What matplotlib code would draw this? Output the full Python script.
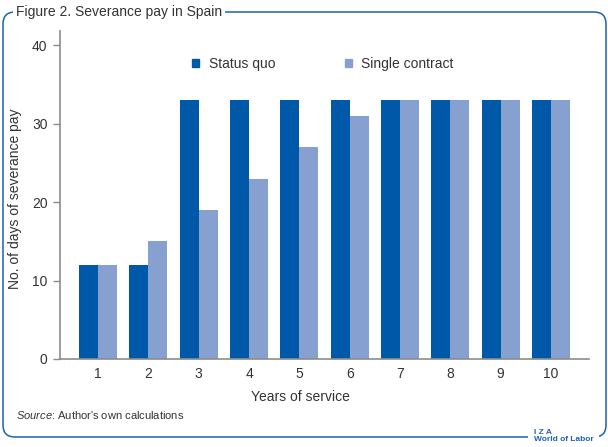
import matplotlib
matplotlib.use("Agg")
import matplotlib.pyplot as plt
from matplotlib.patches import FancyBboxPatch, Patch
from matplotlib.transforms import IdentityTransform
import numpy as np

plt.rcParams["font.family"] = ["Liberation Sans", "DejaVu Sans"]
plt.rcParams["mathtext.fontset"] = "custom"
plt.rcParams["mathtext.rm"] = "Liberation Sans"
plt.rcParams["mathtext.it"] = "Liberation Sans:italic"

years = [1, 2, 3, 4, 5, 6, 7, 8, 9, 10]
status_quo = [12, 12, 33, 33, 33, 33, 33, 33, 33, 33]
single_contract = [12, 15, 19, 23, 27, 31, 33, 33, 33, 33]

DARK = "#0058a8"
LIGHT = "#86a0d0"
FRAME = "#1b62b5"
GREY = "#8c8c8c"
TEXT = "#333333"

W, H = 608, 447
fig = plt.figure(figsize=(W / 100, H / 100), dpi=100)
ax = fig.add_axes([60 / W, 1 - 359 / H, 529 / W, 328 / H])

x = np.array(years)
bw = 0.38
ax.bar(x - bw / 2, status_quo, bw, color=DARK, edgecolor="none", label="Status quo")
ax.bar(x + bw / 2, single_contract, bw, color=LIGHT, edgecolor="none", label="Single contract")

ax.set_xlim(0.245, 10.755)
ax.set_ylim(0, 41.8)
ax.set_xticks(years)
ax.set_yticks([0, 10, 20, 30, 40])
ax.tick_params(axis="x", length=0, pad=6, labelsize=10, labelcolor=TEXT)
ax.tick_params(axis="y", length=5, width=1, color=GREY, pad=4, labelsize=10, labelcolor=TEXT)
for s in ["top", "right"]:
    ax.spines[s].set_visible(False)
for s in ["left", "bottom"]:
    ax.spines[s].set_color(GREY)
    ax.spines[s].set_linewidth(1.2)

ax.set_ylabel("No. of days of severance pay", fontsize=10, color=TEXT)
ax.yaxis.set_label_coords(-38 / 529, 0.49)
ax.set_xlabel("Years of service", fontsize=10, color=TEXT)
ax.xaxis.set_label_coords((300 - 60) / 529, -31 / 328)

handles = [Patch(color=DARK, label="Status quo"), Patch(color=LIGHT, label="Single contract")]
ax.legend(handles=handles, ncol=2, frameon=False, fontsize=10,
          loc="center left", bbox_to_anchor=((192 - 60) / 529, (359 - 64) / 328),
          borderpad=0, borderaxespad=0, handlelength=0.5, handleheight=0.5,
          handletextpad=0.7, columnspacing=5.0, labelcolor=TEXT)

# rounded frame around the figure
frame = FancyBboxPatch((3, 10), 603, 425, boxstyle="round,pad=0,rounding_size=12",
                       transform=IdentityTransform(), facecolor="none",
                       edgecolor=FRAME, linewidth=1.1, zorder=0)
fig.patches.append(frame)

fig.text(16 / W, 1 - 12 / H, "Figure 2. Severance pay in Spain", fontsize=10,
         color=TEXT, ha="left", va="center",
         bbox=dict(facecolor="white", edgecolor="none", pad=2))

fig.text(16 / W, 1 - 415 / H, r"$\it{Source}$: Author's own calculations", fontsize=8,
         color=TEXT, ha="left", va="center")

fig.text(534 / W, 1 - 436 / H, "I Z A\nWorld of Labor", fontsize=6, color=FRAME,
         fontweight="bold", ha="left", va="center", linespacing=1.15,
         bbox=dict(facecolor="white", edgecolor="none", pad=4))

fig.savefig("out.png", dpi=100)
